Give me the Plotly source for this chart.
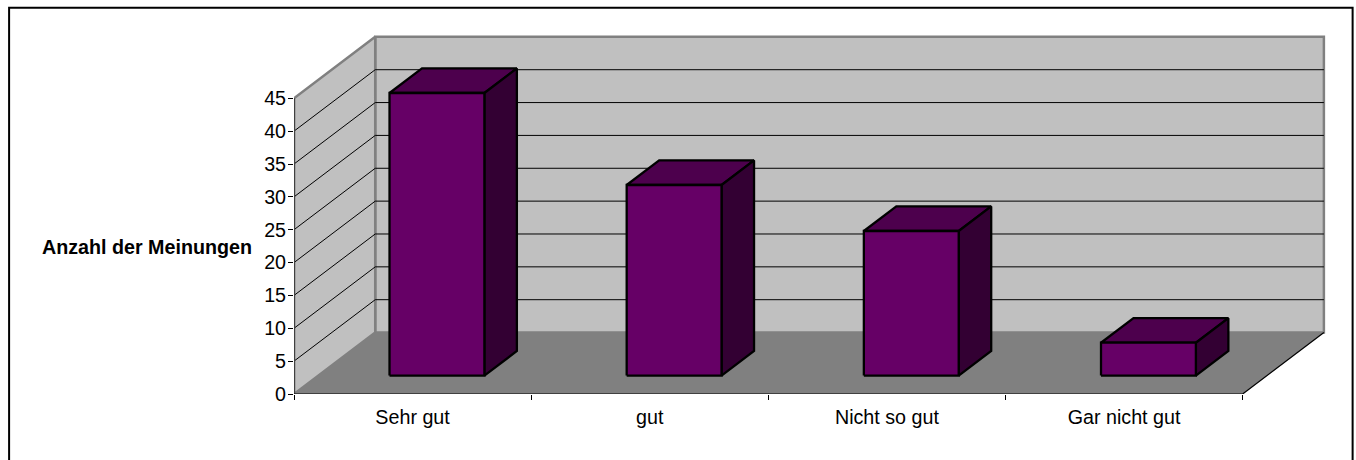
import plotly.graph_objects as go

# Chart data
categories = ["Sehr gut", "gut", "Nicht so gut", "Gar nicht gut"]
opinions = [43, 29, 22, 5]
value_ticks = [0, 5, 10, 15, 20, 25, 30, 35, 40, 45]
y_title = "Anzahl der Meinungen"

# Oblique projection: a point at depth z (0 = front, 1 = back wall) is moved
# by z * DEPTH_X categories to the right and z * DEPTH_Y value units upwards.
DEPTH_X = 0.3425
DEPTH_Y = 9.35
BAR_START, BAR_END = 0.30, 0.70     # horizontal extent within a category slot
BAR_NEAR, BAR_FAR = 0.30, 0.70      # depth extent of each bar

# Canvas layout
WIDTH, HEIGHT = 1356, 460
ORIGIN_X, ORIGIN_Y = 294, 394
PX_PER_CATEGORY = 237.25
PX_PER_VALUE = 295.5 / 45

WALL = "#c0c0c0"
FLOOR = "#808080"
EDGE = "#808080"
FRONT = "#660066"
TOP = "#4d004d"
SIDE = "#330033"
FONT = "Liberation Sans, Arial, sans-serif"
FONT_SIZE = 19.7


def project(x, y, z):
    return x + z * DEPTH_X, y + z * DEPTH_Y


def polygon(corners, fill, line_color, line_width):
    pts = [project(*c) for c in corners]
    pts.append(pts[0])
    return go.Scatter(
        x=[p[0] for p in pts], y=[p[1] for p in pts],
        mode="lines", fill="toself", fillcolor=fill,
        line=dict(color=line_color, width=line_width),
        hoverinfo="skip", showlegend=False, cliponaxis=False,
    )


def segments(pairs, color, width):
    xs, ys = [], []
    for a, b in pairs:
        pa, pb = project(*a), project(*b)
        xs += [pa[0], pb[0], None]
        ys += [pa[1], pb[1], None]
    return go.Scatter(
        x=xs, y=ys, mode="lines", line=dict(color=color, width=width),
        hoverinfo="skip", showlegend=False, cliponaxis=False,
    )


n = len(categories)
top = max(value_ticks)

# The plot area reaches past the front plane so the back wall fits inside it.
x_max = n + DEPTH_X + 0.03
y_max = top + DEPTH_Y + 1.5
plot_w = x_max * PX_PER_CATEGORY
plot_h = y_max * PX_PER_VALUE


def paper_x(px):
    return (px - ORIGIN_X) / plot_w


def paper_y(px):
    return (ORIGIN_Y - px) / plot_h


fig = go.Figure()

# Walls and floor
fig.add_trace(polygon([(0, 0, 1), (n, 0, 1), (n, top, 1), (0, top, 1)], WALL, EDGE, 2.5))
fig.add_trace(polygon([(0, 0, 0), (0, 0, 1), (0, top, 1), (0, top, 0)], WALL, EDGE, 2.5))
fig.add_trace(polygon([(0, 0, 0), (n, 0, 0), (n, 0, 1), (0, 0, 1)], FLOOR, FLOOR, 0.5))

# Gridlines on both walls
inner = [v for v in value_ticks if 0 < v < top]
fig.add_trace(segments([((0, v, 1), (n, v, 1)) for v in inner], "#000000", 1))
fig.add_trace(segments([((0, v, 0), (0, v, 1)) for v in inner], "#000000", 1))

# Front axis lines and the right-hand edge of the floor
fig.add_trace(segments([((0, 0, 0), (0, top, 0))], "#404040", 2.2))
fig.add_trace(segments([((0, 0, 0), (n, 0, 0)), ((n, 0, 0), (n, 0, 1))], "#000000", 1.2))

# Bars, each made of top, side and front faces
for i, value in enumerate(opinions):
    x0, x1 = i + BAR_START, i + BAR_END
    n_z, f_z = BAR_NEAR, BAR_FAR
    fig.add_trace(polygon([(x0, value, n_z), (x1, value, n_z), (x1, value, f_z), (x0, value, f_z)], TOP, "#000000", 2.3))
    fig.add_trace(polygon([(x1, 0, n_z), (x1, 0, f_z), (x1, value, f_z), (x1, value, n_z)], SIDE, "#000000", 2.3))
    fig.add_trace(polygon([(x0, 0, n_z), (x1, 0, n_z), (x1, value, n_z), (x0, value, n_z)], FRONT, "#000000", 2.3))

fig.update_layout(
    width=WIDTH, height=HEIGHT,
    margin=dict(
        l=ORIGIN_X, r=WIDTH - ORIGIN_X - plot_w,
        t=ORIGIN_Y - plot_h, b=HEIGHT - ORIGIN_Y, autoexpand=False,
    ),
    paper_bgcolor="#ffffff", plot_bgcolor="rgba(0,0,0,0)",
    font=dict(family=FONT, size=FONT_SIZE, color="#000000"),
    showlegend=False,
    xaxis=dict(
        range=[0, x_max], showgrid=False, zeroline=False, fixedrange=True, showline=False,
        tickmode="array", tickvals=[i + 0.5 for i in range(n)], ticktext=categories,
        ticks="", ticklen=0, ticklabelstandoff=9, tickfont=dict(family=FONT, size=FONT_SIZE),
        minor=dict(tickmode="array", tickvals=list(range(n + 1)), ticks="outside",
                   ticklen=5, tickcolor="#000000", tickwidth=1, showgrid=False),
    ),
    yaxis=dict(
        range=[0, y_max], showgrid=False, zeroline=False, fixedrange=True, showline=False,
        tickmode="array", tickvals=value_ticks, ticks="outside",
        ticklen=5, tickcolor="#000000", tickwidth=1, ticklabelstandoff=-2,
        tickfont=dict(family=FONT, size=FONT_SIZE),
    ),
    annotations=[dict(
        text=f"<b>{y_title}</b>", xref="paper", yref="paper",
        x=paper_x(254), y=paper_y(247), xanchor="right", yanchor="middle",
        showarrow=False, font=dict(family=FONT, size=19.7),
    )],
    shapes=[dict(
        type="rect", xref="paper", yref="paper",
        x0=paper_x(9), x1=paper_x(1353), y0=paper_y(480), y1=paper_y(8),
        line=dict(color="#000000", width=2), fillcolor="rgba(0,0,0,0)", layer="below",
    )],
)

fig.write_html("out.html", config=dict(displayModeBar=False))
